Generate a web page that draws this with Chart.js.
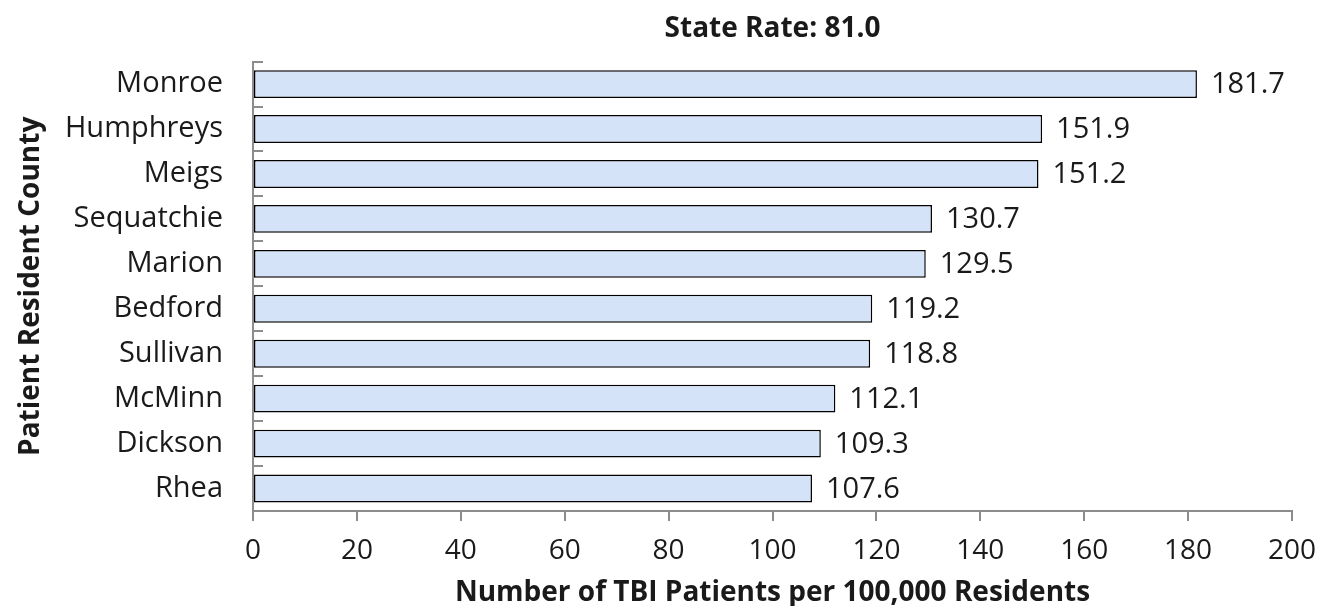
<!DOCTYPE html>
<html>
<head>
<meta charset="utf-8">
<script src="https://cdn.jsdelivr.net/npm/chart.js@4/dist/chart.umd.min.js"></script>
<style>
  html, body { margin: 0; padding: 0; background: #ffffff; }
  #wrap { width: 1318px; height: 606px; position: relative; }
</style>
</head>
<body>
<div id="wrap"><canvas id="c"></canvas></div>
<script>
// ---- data ----
const categories = ['Monroe', 'Humphreys', 'Meigs', 'Sequatchie', 'Marion', 'Bedford', 'Sullivan', 'McMinn', 'Dickson', 'Rhea'];
const rates = [181.7, 151.9, 151.2, 130.7, 129.5, 119.2, 118.8, 112.1, 109.3, 107.6];
const stateRate = 81.0;
const xMin = 0;
const xMax = 200;
const xStep = 20;
const chartTitle = 'State Rate: ' + stateRate.toFixed(1);
const xTitle = 'Number of TBI Patients per 100,000 Residents';
const yTitle = 'Patient Resident County';

const FONT = "'Open Sans', 'Noto Sans', sans-serif";
const AXIS_GREY = '#8c8c8c';
const TEXT = '#1a1a1a';
const Y_AXIS_WIDTH = 253;
const X_AXIS_RIGHT_PAD = 26;

// inward tick marks on the category axis, at category boundaries
const innerTicks = {
  id: 'innerTicks',
  afterDraw(chart) {
    const ys = chart.scales.y;
    const ctx = chart.ctx;
    const n = categories.length;
    ctx.save();
    ctx.strokeStyle = AXIS_GREY;
    ctx.lineWidth = 2;
    for (let i = 0; i <= n; i++) {
      const y = Math.round(ys.getPixelForValue(i - 0.5));
      ctx.beginPath();
      ctx.moveTo(ys.right, y);
      ctx.lineTo(ys.right + 10, y);
      ctx.stroke();
    }
    ctx.restore();
  }
};

// value labels at the end of each bar
const valueLabels = {
  id: 'valueLabels',
  afterDatasetsDraw(chart) {
    const ctx = chart.ctx;
    const meta = chart.getDatasetMeta(0);
    ctx.save();
    ctx.font = '29px ' + FONT;
    ctx.fillStyle = TEXT;
    ctx.textAlign = 'left';
    ctx.textBaseline = 'middle';
    meta.data.forEach((bar, i) => {
      ctx.fillText(rates[i].toFixed(1), bar.x + 14, bar.y + 1);
    });
    ctx.restore();
  }
};

new Chart(document.getElementById('c'), {
  type: 'bar',
  data: {
    labels: categories,
    datasets: [{
      data: rates,
      backgroundColor: 'rgb(213,227,249)',
      borderColor: '#000000',
      borderWidth: 1.5,
      borderSkipped: false,
      categoryPercentage: 1.0,
      barPercentage: 0.62,
      xAxisID: 'x',
      yAxisID: 'y'
    }]
  },
  options: {
    indexAxis: 'y',
    responsive: true,
    maintainAspectRatio: false,
    animation: false,
    layout: { padding: { top: 12, right: 0, bottom: -3, left: 0 } },
    plugins: {
      legend: { display: false },
      tooltip: { enabled: false },
      title: { display: false }
    },
    scales: {
      x: {
        type: 'linear',
        position: 'bottom',
        min: xMin,
        max: xMax,
        afterFit(scale) { scale.paddingRight = X_AXIS_RIGHT_PAD; },
        ticks: {
          stepSize: xStep,
          color: TEXT,
          font: { family: FONT, size: 28 },
          padding: 13.2,
          maxRotation: 0
        },
        grid: {
          display: true,
          drawOnChartArea: false,
          drawTicks: true,
          tickLength: 10,
          color: AXIS_GREY,
          lineWidth: 2
        },
        border: { display: true, color: AXIS_GREY, width: 2 },
        title: {
          display: true,
          text: xTitle,
          color: TEXT,
          font: { family: FONT, size: 28, weight: 'bold', lineHeight: 1.0 },
          padding: { top: -2, bottom: 2 }
        }
      },
      x2: {
        type: 'linear',
        position: 'top',
        min: xMin,
        max: xMax,
        ticks: { display: false },
        grid: { display: false, drawTicks: false },
        border: { display: false },
        title: {
          display: true,
          text: chartTitle,
          color: TEXT,
          font: { family: FONT, size: 28, weight: 'bold' },
          padding: { top: 0, bottom: 16 }
        }
      },
      y: {
        type: 'category',
        position: 'left',
        offset: true,
        afterFit(scale) { scale.width = Y_AXIS_WIDTH; },
        ticks: {
          color: TEXT,
          font: { family: FONT, size: 29 },
          padding: 30,
          autoSkip: false
        },
        grid: {
          display: true,
          offset: true,
          drawOnChartArea: false,
          drawTicks: false,
          color: AXIS_GREY
        },
        border: { display: true, color: AXIS_GREY, width: 2 },
        title: {
          display: true,
          text: yTitle,
          color: TEXT,
          font: { family: FONT, size: 28, weight: 'bold' },
          padding: { top: 14, bottom: 8 }
        }
      }
    }
  },
  plugins: [innerTicks, valueLabels]
});
</script>
</body>
</html>
